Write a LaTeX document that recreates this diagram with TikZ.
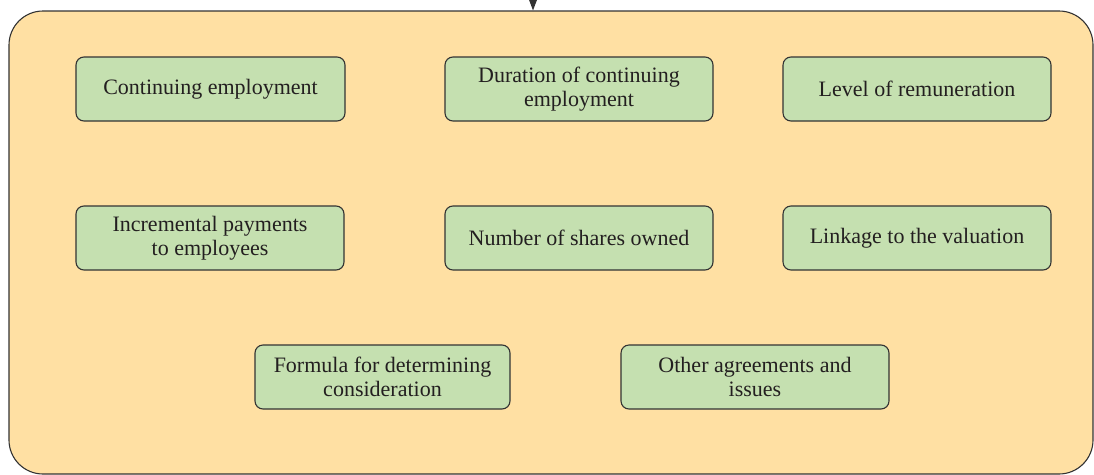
\documentclass[tikz,border=0pt]{standalone}
\usepackage{fontspec}
\setmainfont{Liberation Serif}
\usetikzlibrary{arrows.meta}
\definecolor{framefill}{HTML}{FFE0A3}
\definecolor{boxfill}{HTML}{C5E0B0}
\definecolor{edge}{HTML}{333333}
\definecolor{ink}{HTML}{231F20}
\tikzset{
  x=1pt, y=-1pt,
  frame/.style={draw=edge, line width=1.1pt, fill=framefill, rounded corners=34pt,
    minimum width=1084pt, minimum height=463pt, inner sep=0pt},
  item/.style={draw=edge, line width=1.1pt, fill=boxfill, rounded corners=8pt,
    minimum height=64pt, inner sep=0pt, align=center, text=ink,
    font=\fontsize{22}{23.5}\selectfont},
  link/.style={draw=edge, line width=1.1pt, -{Triangle[length=11pt,width=8pt]}}
}
\begin{document}
\begin{tikzpicture}
\useasboundingbox (0,0) rectangle (1094,474);
\node[frame] (frame) at (551,242.5) {};
\coordinate (src) at (533,0);
\draw[link] (src) -- (src |- frame.north);

\node[item, minimum width=269pt] (b1) at (210.5,89) {Continuing employment};
\node[item, minimum width=268pt] (b2) at (579,89) {Duration of continuing\\employment};
\node[item, minimum width=268pt] (b3) at (917,89) {Level of remuneration};

\node[item, minimum width=268pt] (b4) at (210,238) {Incremental payments\\to employees};
\node[item, minimum width=268pt] (b5) at (579,238) {Number of shares owned};
\node[item, minimum width=268pt] (b6) at (917,238) {Linkage to the valuation};

\node[item, minimum width=255pt] (b7) at (382.5,377) {Formula for determining\\consideration};
\node[item, minimum width=268pt] (b8) at (755,377) {Other agreements and\\issues};
\end{tikzpicture}
\end{document}
